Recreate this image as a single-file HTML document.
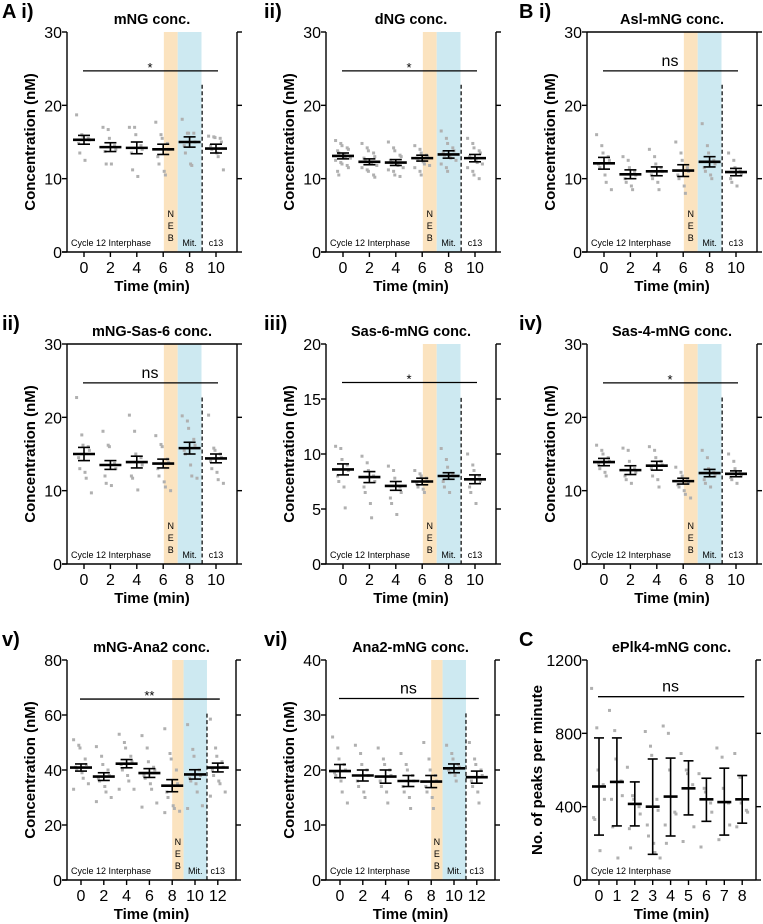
<!DOCTYPE html>
<html><head><meta charset="utf-8"><style>
html,body{margin:0;padding:0;background:#fff;}
svg{display:block;font-family:"Liberation Sans",Arial,sans-serif;}
</style></head><body>
<svg id="fig" width="763" height="924" viewBox="0 0 763 924"></svg>
<script>
// ---- data arrays ----
const times6 = [0,2,4,6,8,10];
const times7 = [0,2,4,6,8,10,12];
const timesC = [0,1,2,3,4,5,6,7,8];

const meansAi = [15.3,14.3,14.2,14.0,15.0,14.1];
const semAi = [0.6,0.6,0.8,0.7,0.7,0.6];
const ptsAi = [[18.7,16,15.8,15.5,15.3,14.8,13.5,12.5],[17,16.7,15.5,14.5,14,13.7,12,12],[17,17,16,14.5,14,13.5,11.2,10.3],[17.7,16,15.5,14.8,14,13,12,11,10.5],[18.1,16.2,16.2,16.2,15,14.5,13.5,12,11.8],[15.8,15.7,15.6,15.5,15,14.5,14,13.5,13,11.2]];

const meansAii = [13.1,12.3,12.2,12.8,13.3,12.8];
const semAii = [0.4,0.4,0.4,0.4,0.5,0.5];
const ptsAii = [[15.2,14.8,14.5,14.2,14,13.8,13.5,13.3,13,12.8,12.5,12.2,12,11.8,11.5,11,10.5],[14.8,14.2,13.8,13.5,13,12.8,12.5,12.2,12,11.8,11.5,11.2,11,10.5,10.2],[15,14.2,13.8,13.2,13,12.5,12.2,12,11.8,11.5,11.2,11,10.5,10.3],[14.5,14,13.5,13.2,13,12.8,12.5,12.3,12,11.8,11.5,11,10.5],[16.5,15.5,14.8,14.2,13.8,13.5,13.2,13,12.8,12.5,12,11.5,11],[15.5,14.8,14.2,13.8,13.5,13,12.8,12.5,12.2,12,11.5,11,10.5,10]];

const meansBi = [12.1,10.6,11.0,11.1,12.3,10.9];
const semBi = [0.8,0.6,0.6,0.8,0.7,0.5];
const ptsBi = [[16,14.5,13.5,13,12.5,12,11.5,10.5,9.5,8.5],[13,12.5,11.5,11,10.5,10,9.5,9,8.5],[14,13,12,11.5,11,10.5,10,9.5,8.5],[15,13.5,12.5,11.5,11,10.5,10,9,8],[17.5,14.5,13.5,12.5,12,11.5,11,10.5,10],[13.5,12.5,11.5,11,10.5,10,9.5,9]];

const meansSas6 = [15.0,13.5,13.9,13.7,15.8,14.4];
const semSas6 = [0.9,0.6,0.8,0.6,0.8,0.6];
const ptsSas6 = [[22.7,17.6,16.2,16,15.5,14.5,13,12.5,11.7,9.7],[18.1,16.2,16,13.7,13,12,11,10.7],[20.3,18.1,15,14.5,13.5,12,11.7,10.1],[17.5,16.3,16,14.3,13.8,13,12,11.2,10.5,10],[20.2,19.5,18.5,17,16.2,15.5,15,13.5,12,11.7],[20.3,15.8,15.5,15,14.5,14,13,12.5,11.5,11]];

const meansSas6b = [8.6,7.9,7.1,7.5,8.0,7.7];
const semSas6b = [0.5,0.5,0.4,0.3,0.3,0.4];
const ptsSas6b = [[10.7,10.5,9.5,9,8.5,8,7.5,7,5.1],[9.8,9.2,8.5,8,7.5,7,6.5,5.5,4.2],[8.9,8.5,7.8,7,6.5,6,5.5,4.5],[8.5,8.2,8,7.8,7.5,7.3,7,6.8,6.5],[10.5,9.5,8.8,8.2,8,7.5,7,6.5],[10,9,8.5,8,7.5,7,6.5,5.5]];

const meansSas4 = [13.9,12.8,13.4,11.3,12.4,12.3];
const semSas4 = [0.5,0.6,0.6,0.4,0.5,0.4];
const ptsSas4 = [[16.2,15.5,15,14.5,14,13.5,13,12.5,12],[15.8,15.5,14,13,12.5,12,11.5,11],[16,15.5,14.5,14,13.5,13,12,11.5,10.5],[13.2,12.5,12,11.5,11,10.8,10.5,10,9.5,9],[15.5,14.5,13,12.5,12,11.5,11,10.5],[15,14,13,12.5,12,11.8,11.5,11]];

const meansAna2 = [40.9,37.6,42.3,38.9,34.3,38.4,40.9];
const semAna2 = [1.3,1.4,1.5,1.6,2.2,1.7,1.6];
const ptsAna2 = [[51,49,48,44,42,41,40,39,37,35,33],[48.5,45,42,40,38,37,36,34,32,30,28.5],[53,50,48,45,43,42,40,38,36,33,33],[52.5,48,43,41,40,38,37,35,33,28,26.5],[55,46,44,40,35,32,30,27,26,25,24.5],[56.5,47.5,45,40,38,37,36,35,32,27,26],[58.5,48,45,43,41,40,38,36,35,32,30.5]];

const meansAna2b = [19.8,19.0,18.8,18.0,17.9,20.3,18.7];
const semAna2b = [1.2,1.0,1.2,1.0,1.1,0.8,1.1];
const ptsAna2b = [[26,24,22,21,20,19.5,19,18,16,14],[24.5,23,21,20,19,18,17,16,15],[24,22,21,20,19,18,17,16,14],[23,21,20,19,18,17,16,15,13],[25,22,20,19,18,17,16,15,13],[24.5,23,22,21,20.5,20,19.5,19,18],[25,22,21,20,19,18,17,16,14]];

const meansC = [510,535,415,400,455,500,440,425,440];
const lowC = [245,295,295,140,240,355,320,245,310];
const highC = [775,775,535,660,665,650,555,610,570];
const ptsC = [[1045,830,600,520,440,340,330,160],[925,815,660,540,460,440,290,120],[615,460,440,400,360,280,175],[810,730,680,440,380,300,240,200,150,120],[840,800,600,370,360,300,200],[690,600,580,520,290,210],[580,500,480,420,370,180],[720,670,500,420,300,220],[690,560,420,380,370,290]];

const ticks30 = [0,10,20,30], ticks20=[0,5,10,15,20], ticks80=[0,20,40,60,80], ticks40=[0,10,20,30,40], ticksC=[0,400,800,1200];

// ---- drawing ----
const NS="http://www.w3.org/2000/svg";
const svg=document.getElementById('fig');
function mk(tag,attrs,parent,text){const e=document.createElementNS(NS,tag);for(const k in attrs)e.setAttribute(k,attrs[k]);if(text!==undefined)e.textContent=text;(parent||svg).appendChild(e);return e;}

function panel(o){
  const g=mk('g',{});
  
  
  const L=o.ox, T=o.oy, W=o.w, H=220, B=T+H, R=L+W;
  const xs=t=>L+o.x0+t*o.ppu;
  const ys=v=>B-v/o.ymax*H;
  if(o.bands){
    const ob=mk('rect',{x:xs(o.bands[0]),y:T,width:xs(o.bands[1])-xs(o.bands[0]),height:H,fill:'#fbe3bf'},g);
    
    const bb=mk('rect',{x:xs(o.bands[1]),y:T,width:xs(o.bands[2])-xs(o.bands[1]),height:H,fill:'#cde9f1'},g);
    
    const dl=mk('line',{x1:xs(o.bands[3]),x2:xs(o.bands[3]),y1:ys(o.dashTop),y2:B,stroke:'#000','stroke-width':1.2,'stroke-dasharray':'4,2.5'},g);
    
    const tb=[B-38,B-26,B-14];['N','E','B'].forEach((c,i)=>mk('text',{x:(xs(o.bands[0])+xs(o.bands[1]))/2,y:tb[i]+3,'font-size':9,'text-anchor':'middle'},g,c));
    mk('text',{x:(xs(o.bands[1])+xs(o.bands[2]))/2,y:B-6,'font-size':9,'text-anchor':'middle'},g,'Mit.');
    mk('text',{x:xs(o.times[o.times.length-1]),y:B-6,'font-size':9,'text-anchor':'middle'},g,'c13');
  }
  mk('text',{x:L+4,y:B-6,'font-size':9},g,'Cycle 12 Interphase');
  mk('line',{x1:L,x2:L,y1:T,y2:B,stroke:'#000','stroke-width':1.4},g);
  mk('line',{x1:R,x2:R,y1:T,y2:B,stroke:'#000','stroke-width':1.4},g);
  mk('line',{x1:L-5,x2:R,y1:B,y2:B,stroke:'#000','stroke-width':1.4},g);
  if(o.topline) mk('line',{x1:L,x2:R,y1:T,y2:T,stroke:'#000','stroke-width':1.4},g);
  o.yt.forEach(v=>{
    mk('line',{x1:L-5,x2:L,y1:ys(v),y2:ys(v),stroke:'#000','stroke-width':1.4},g);
    mk('line',{x1:R,x2:R+5,y1:ys(v),y2:ys(v),stroke:'#000','stroke-width':1.4},g);
    mk('text',{x:L-5,y:ys(v)+6,'font-size':16,'text-anchor':'end'},g,String(v));
  });
  o.times.forEach(t=>{
    mk('line',{x1:xs(t),x2:xs(t),y1:B,y2:B+5,stroke:'#000','stroke-width':1.4},g);
    mk('text',{x:xs(t),y:B+21,'font-size':16,'text-anchor':'middle'},g,String(t));
  });
  mk('text',{x:(L+R)/2,y:B+39,'font-size':15,'font-weight':'bold','text-anchor':'middle'},g,'Time (min)');
  const yl=mk('text',{x:0,y:0,'font-size':15,'font-weight':'bold','text-anchor':'middle',transform:`translate(${L-(o.ylOff||32)},${(T+B)/2}) rotate(-90)`},g,o.ylabel);
  
  const ti=mk('text',{x:(L+R)/2,y:T-8,'font-size':14.5,'font-weight':'bold','text-anchor':'middle'},g,o.title);
  
  mk('text',{x:o.lx,y:T-14,'font-size':20,'font-weight':'bold'},g,o.label);
  o.times.forEach((t,i)=>{
    o.pts[i].forEach((v,j)=>{
      const off=((j%5)-2)*3.2+((j%2)?1:-1);
      const p=mk('rect',{x:xs(t)+off-1.5,y:ys(v)-1.5,width:3,height:3,fill:'#b0b0b0'},g);
      
    });
  });
  o.times.forEach((t,i)=>{
    const m=o.means[i];
    const lo=o.low?o.low[i]:m-o.sem[i], hi=o.high?o.high[i]:m+o.sem[i];
    const cw=o.cw||6, mw=o.mw||11;
    const eb=mk('g',{},g);
    
    mk('line',{x1:xs(t),x2:xs(t),y1:ys(lo),y2:ys(hi),stroke:'#000','stroke-width':1.6},eb);
    mk('line',{x1:xs(t)-cw,x2:xs(t)+cw,y1:ys(lo),y2:ys(lo),stroke:'#000','stroke-width':1.6},eb);
    mk('line',{x1:xs(t)-cw,x2:xs(t)+cw,y1:ys(hi),y2:ys(hi),stroke:'#000','stroke-width':1.6},eb);
    mk('line',{x1:xs(t)-mw,x2:xs(t)+mw,y1:ys(m),y2:ys(m),stroke:'#000','stroke-width':2.6},eb);
  });
  const t0=o.times[0],t1=o.times[o.times.length-1];
  const sl=mk('line',{x1:xs(t0)-1,x2:xs(t1)+2,y1:ys(o.sig),y2:ys(o.sig),stroke:'#000','stroke-width':1.3},g);
  
  const st=o.sigText==='ns';
  mk('text',{x:(xs(t0)+xs(t1))/2,y:ys(o.sig)-(st?5:-1),'font-size':st?16:13,'text-anchor':'middle'},g,o.sigText);
}

const r1=32,r2=344,r3=660;
const c6={w:170,x0:17,ppu:13.2,bands:[6.05,7.1,8.9,8.95]};
panel(Object.assign({name:'panel-a-i',ox:67,oy:r1,times:times6,means:meansAi,sem:semAi,pts:ptsAi,ymax:30,yt:ticks30,title:'mNG conc.',label:'A i)',lx:2,sig:24.7,sigText:'*',dashTop:22.8,ylabel:'Concentration (nM)'},c6));
panel(Object.assign({name:'panel-a-ii',ox:326,oy:r1,times:times6,means:meansAii,sem:semAii,pts:ptsAii,ymax:30,yt:ticks30,title:'dNG conc.',label:'ii)',lx:264,sig:24.7,sigText:'*',dashTop:22.8,ylabel:'Concentration (nM)'},c6));
panel(Object.assign({name:'panel-b-i',ox:587,oy:r1,times:times6,means:meansBi,sem:semBi,pts:ptsBi,ymax:30,yt:ticks30,title:'Asl-mNG conc.',label:'B i)',lx:519,sig:24.7,sigText:'ns',dashTop:22.8,topline:true,ylabel:'Concentration (nM)'},c6));
panel(Object.assign({name:'panel-b-ii',ox:67,oy:r2,times:times6,means:meansSas6,sem:semSas6,pts:ptsSas6,ymax:30,yt:ticks30,title:'mNG-Sas-6 conc.',label:'ii)',lx:2,sig:24.7,sigText:'ns',dashTop:22.7,topline:true,ylabel:'Concentration (nM)'},c6));
panel(Object.assign({name:'panel-b-iii',ox:326,oy:r2,times:times6,means:meansSas6b,sem:semSas6b,pts:ptsSas6b,ymax:20,yt:ticks20,title:'Sas-6-mNG conc.',label:'iii)',lx:264,sig:16.5,sigText:'*',dashTop:15.1,ylabel:'Concentration (nM)'},c6));
panel(Object.assign({name:'panel-b-iv',ox:587,oy:r2,times:times6,means:meansSas4,sem:semSas4,pts:ptsSas4,ymax:30,yt:ticks30,title:'Sas-4-mNG conc.',label:'iv)',lx:519,sig:24.7,sigText:'*',dashTop:22.7,ylabel:'Concentration (nM)'},c6));
const c7={w:169,x0:14,ppu:11.4,bands:[8.0,9.0,11.05,11.05]};
panel(Object.assign({name:'panel-b-v',ox:67,oy:r3,times:times7,means:meansAna2,sem:semAna2,pts:ptsAna2,ymax:80,yt:ticks80,title:'mNG-Ana2 conc.',label:'v)',lx:2,sig:65.8,sigText:'**',dashTop:60.5,ylabel:'Concentration (nM)'},c7));
panel(Object.assign({name:'panel-b-vi',ox:326,oy:r3,times:times7,means:meansAna2b,sem:semAna2b,pts:ptsAna2b,ymax:40,yt:ticks40,title:'Ana2-mNG conc.',label:'vi)',lx:264,sig:33,sigText:'ns',dashTop:30.3,ylabel:'Concentration (nM)'},c7));
panel({name:'panel-c',ox:587,oy:r3,w:169,x0:12,ppu:17.9,times:timesC,means:meansC,low:lowC,high:highC,pts:ptsC,ymax:1200,yt:ticksC,title:'ePlk4-mNG conc.',label:'C',lx:519,sig:1000,sigText:'ns',cw:5,mw:7,ylOff:45,ylabel:'No. of peaks per minute'});
</script>
</body></html>
